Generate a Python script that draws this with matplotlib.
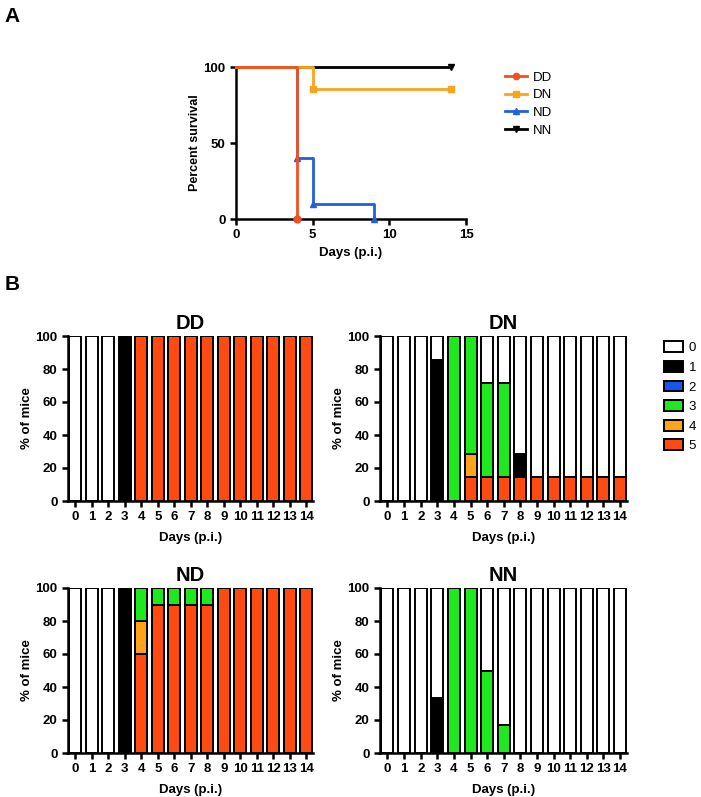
import matplotlib
matplotlib.use("Agg")
import matplotlib.pyplot as plt
from matplotlib.lines import Line2D
from matplotlib.patches import Patch

plt.rcParams.update({
    "font.family": ["Liberation Sans", "DejaVu Sans"],
    "font.size": 9.5,
    "axes.linewidth": 1.8,
    "xtick.major.width": 1.8,
    "ytick.major.width": 1.8,
    "xtick.major.size": 4,
    "ytick.major.size": 4,
    "axes.spines.top": False,
    "axes.spines.right": False,
})

# ---- panel A: survival ----
SURV_NAMES = ["DD", "DN", "ND", "NN"]
SURV_COLORS = ["#F2501F", "#F9A51B", "#1F5FE0", "#000000"]
SURV_MARKERS = ["o", "s", "^", "v"]
DD_t, DD_s = [0, 4], [100, 0]
DN_t, DN_s = [0, 5, 14], [100, 85.7, 85.7]
ND_t, ND_s = [0, 4, 5, 9], [100, 40, 10, 0]
NN_t, NN_s = [0, 14], [100, 100]
SURV = {"DD": (DD_t, DD_s), "DN": (DN_t, DN_s), "ND": (ND_t, ND_s), "NN": (NN_t, NN_s)}

# ---- panel B: clinical score distribution (% of mice per score, days 0-14) ----
DAYS = list(range(15))
SCORES = [0, 1, 2, 3, 4, 5]
SCORE_COLORS = ["#FFFFFF", "#000000", "#1656F0", "#1EE81E", "#FFA31A", "#FF4A12"]

Z = [0] * 15
DD_sc = [
    [100, 100, 100] + [0] * 12,
    [0, 0, 0, 100] + [0] * 11,
    Z, Z, Z,
    [0, 0, 0, 0] + [100] * 11,
]
DN_sc = [
    [100, 100, 100, 14.3, 0, 0, 28.6, 28.6, 71.4] + [85.7] * 6,
    [0, 0, 0, 85.7, 0, 0, 0, 0, 14.3] + [0] * 6,
    Z,
    [0, 0, 0, 0, 100, 71.4, 57.1, 57.1] + [0] * 7,
    [0, 0, 0, 0, 0, 14.3] + [0] * 9,
    [0, 0, 0, 0, 0] + [14.3] * 10,
]
ND_sc = [
    [100, 100, 100] + [0] * 12,
    [0, 0, 0, 100] + [0] * 11,
    Z,
    [0, 0, 0, 0, 20, 10, 10, 10, 10] + [0] * 6,
    [0, 0, 0, 0, 20] + [0] * 10,
    [0, 0, 0, 0, 60, 90, 90, 90, 90] + [100] * 6,
]
NN_sc = [
    [100, 100, 100, 66.7, 0, 0, 50, 83.3] + [100] * 7,
    [0, 0, 0, 33.3] + [0] * 11,
    Z,
    [0, 0, 0, 0, 100, 100, 50, 16.7] + [0] * 7,
    Z, Z,
]
GROUPS = [("DD", DD_sc), ("DN", DN_sc), ("ND", ND_sc), ("NN", NN_sc)]

W, H = 701, 797
fig = plt.figure(figsize=(W / 100, H / 100), dpi=100)


def px_axes(x0, y0, x1, y1):
    return fig.add_axes([x0 / W, 1 - y1 / H, (x1 - x0) / W, (y1 - y0) / H])


bold = dict(fontweight="bold")

# panel A
axA = px_axes(236, 67, 466, 219)
for name in ["NN", "ND", "DN", "DD"]:
    i = SURV_NAMES.index(name)
    t, s = SURV[name]
    axA.step(t, s, where="post", color=SURV_COLORS[i], lw=2.0, clip_on=False, zorder=3 + (3 - i))
    axA.plot(t[1:], s[1:], ls="none", marker=SURV_MARKERS[i], ms=5,
             color=SURV_COLORS[i], clip_on=False, zorder=3 + (3 - i))
axA.set_xlim(0, 15)
axA.set_ylim(0, 100)
axA.set_xticks([0, 5, 10, 15])
axA.set_yticks([0, 50, 100])
for lab in axA.get_xticklabels() + axA.get_yticklabels():
    lab.set_fontweight("bold")
axA.set_xlabel("Days (p.i.)", fontsize=9.5, **bold, labelpad=4)
axA.set_ylabel("Percent survival", fontsize=9, **bold, labelpad=2)
handles = [Line2D([0], [0], color=c, marker=m, ms=4.5, lw=2.0)
           for c, m in zip(SURV_COLORS, SURV_MARKERS)]
axA.legend(handles, SURV_NAMES, loc="upper left", bbox_to_anchor=(1.12, 1.05),
           frameon=False, fontsize=9.5, handlelength=1.6, handletextpad=0.5,
           labelspacing=0.42)

# panel B
boxes = [(68, 336, 313, 501), (380, 336, 627, 501),
         (68, 588, 313, 753), (380, 588, 627, 753)]
for (name, sc), (x0, y0, x1, y1) in zip(GROUPS, boxes):
    ax = px_axes(x0, y0, x1, y1)
    bottom = [0] * 15
    for k in [5, 4, 3, 2, 1, 0]:
        vals = sc[k]
        ax.bar(DAYS, vals, width=0.72, bottom=bottom, color=SCORE_COLORS[k],
               edgecolor="black", linewidth=1.4, zorder=2)
        bottom = [b + v for b, v in zip(bottom, vals)]
    ax.set_xlim(-0.45, 14.42)
    ax.set_ylim(0, 100)
    ax.set_xticks(DAYS)
    ax.set_yticks([0, 20, 40, 60, 80, 100])
    for lab in ax.get_xticklabels() + ax.get_yticklabels():
        lab.set_fontweight("bold")
    ax.set_title(name, fontsize=14.5, **bold, pad=5)
    ax.set_xlabel("Days (p.i.)", fontsize=9.5, **bold, labelpad=6)
    ax.set_ylabel("% of mice", fontsize=9.5, **bold, labelpad=2)
    if name == "DN":
        sh = [Patch(facecolor=c, edgecolor="black", linewidth=1.4) for c in SCORE_COLORS]
        ax.legend(sh, [str(s) for s in SCORES], loc="upper left",
                  bbox_to_anchor=(1.1, 1.04), frameon=False, fontsize=9.5,
                  handlelength=1.5, handleheight=0.9, handletextpad=0.4,
                  labelspacing=0.5)

fig.text(12 / W, 1 - 16 / H, "A", fontsize=15, **bold, ha="center", va="center")
fig.text(12 / W, 1 - 285 / H, "B", fontsize=15, **bold, ha="center", va="center")

fig.savefig("out.png", dpi=100)
